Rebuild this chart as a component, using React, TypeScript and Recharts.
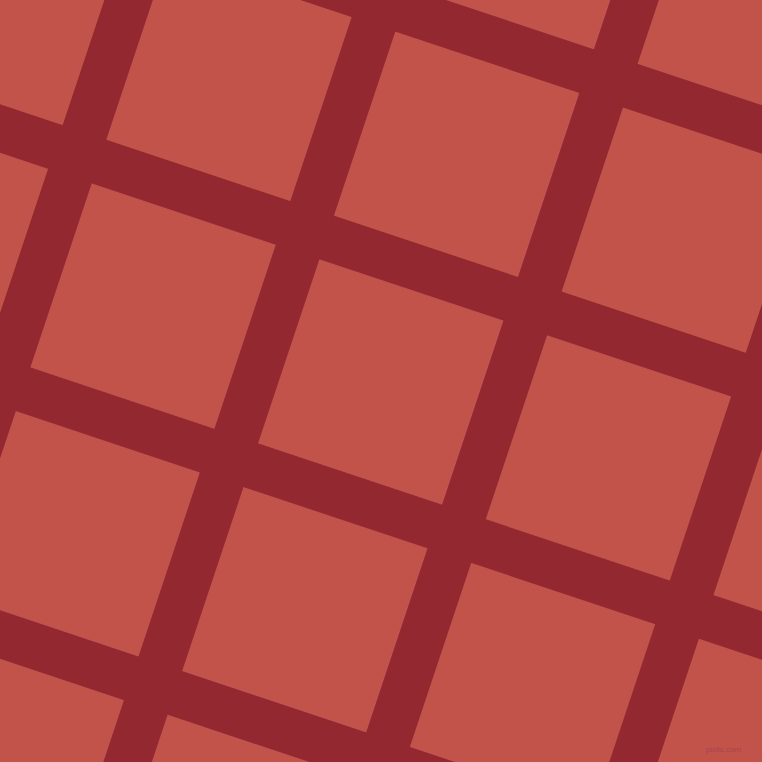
import React from "react";
import { LineChart, Line, XAxis, YAxis } from "recharts";

// Pattern definition (data space = pixels, 0..762, y measured from top)
const slope = 1 / 3; // tan of the grid rotation
const bandCenters = [-118, 122, 362, 602, 842]; // perpendicular offsets of band centres
const tRange = [-900, 1600];
const bgColor = "#C1534B";
const bandColor = "#932831";
const bandWidth = 46;

const hyp = Math.sqrt(1 + slope * slope);
const cosA = 1 / hyp;
const sinA = slope / hyp;

type Pt = { x: number; y: number };

// near-vertical bands: normal (cos, sin), direction (-sin, cos)
const verticalBands: Pt[][] = bandCenters.map((c) =>
  tRange.map((t) => ({ x: c * cosA - t * sinA, y: c * sinA + t * cosA }))
);
// near-horizontal bands: normal (-sin, cos), direction (cos, sin)
const horizontalBands: Pt[][] = bandCenters.map((c) =>
  tRange.map((t) => ({ x: -c * sinA + t * cosA, y: c * cosA + t * sinA }))
);

export default function App() {
  const size = 762;
  return (
    <div
      style={{
        position: "fixed",
        left: 0,
        top: 0,
        width: size,
        height: size,
        background: bgColor,
        overflow: "hidden",
      }}
    >
      <LineChart width={size} height={size} margin={{ top: 0, right: 0, bottom: 0, left: 0 }}>
        <XAxis type="number" dataKey="x" domain={[0, size]} allowDataOverflow hide />
        <YAxis type="number" dataKey="y" domain={[0, size]} reversed allowDataOverflow hide />
        {horizontalBands.map((d, i) => (
          <Line
            key={"h" + i}
            data={d}
            dataKey="y"
            type="linear"
            stroke={bandColor}
            strokeWidth={bandWidth}
            dot={false}
            activeDot={false}
            isAnimationActive={false}
          />
        ))}
        {verticalBands.map((d, i) => (
          <Line
            key={"v" + i}
            data={d}
            dataKey="y"
            type="linear"
            stroke={bandColor}
            strokeWidth={bandWidth}
            dot={false}
            activeDot={false}
            isAnimationActive={false}
          />
        ))}
      </LineChart>
      <div
        style={{
          position: "absolute",
          left: 706,
          top: 745,
          fontFamily: "Liberation Sans",
          fontSize: 8,
          color: "#A8444A",
          lineHeight: "10px",
          whiteSpace: "nowrap",
        }}
      >
        pixlis.com
      </div>
    </div>
  );
}
